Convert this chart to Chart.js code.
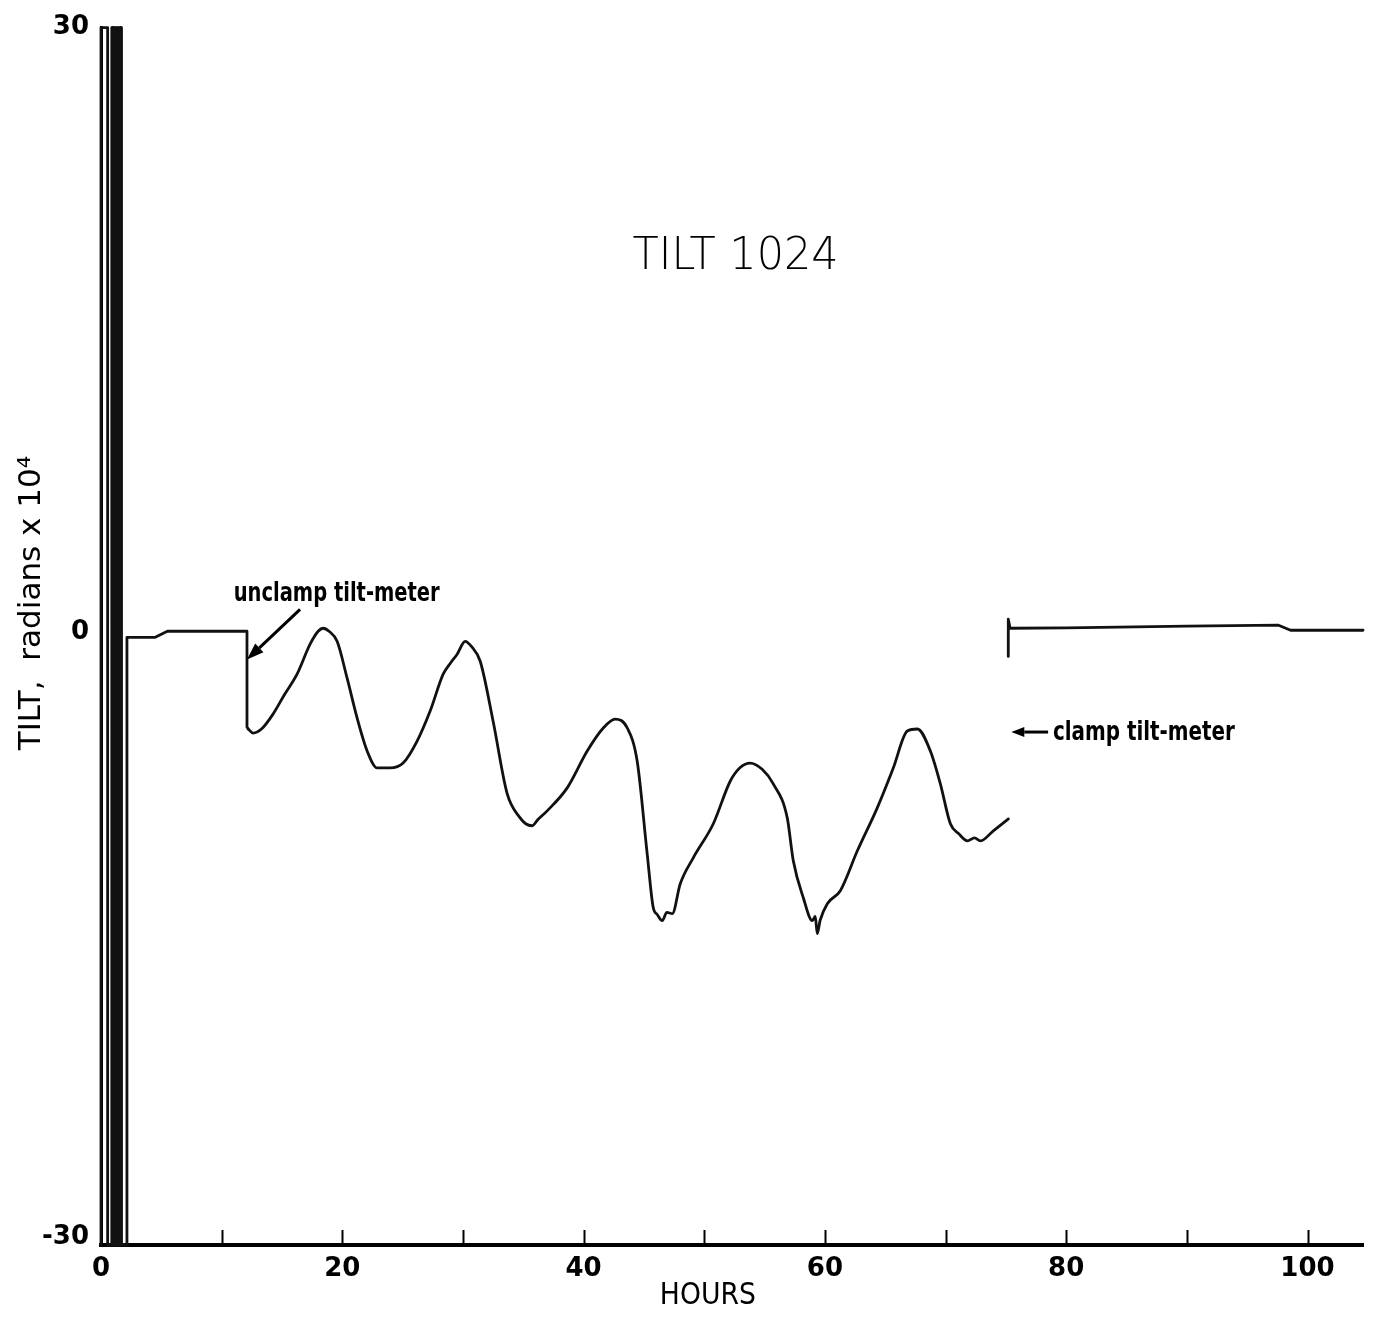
<!DOCTYPE html>
<html>
<head>
<meta charset="utf-8">
<script src="https://cdn.jsdelivr.net/npm/chart.js@4.4.1/dist/chart.umd.min.js"></script>
<style>
  html, body { margin: 0; padding: 0; background: #ffffff; }
  #wrap { width: 1374px; height: 1320px; position: relative; }
</style>
</head>
<body>
<div id="wrap"><canvas id="chart"></canvas></div>
<script>
// ---- data (hours, tilt in radians x 10^4) ----
const burstHours = [0.0, 0.0, 0.55, 0.55, 0.85, 0.88, 0.91, 0.94, 0.97, 1.00, 1.03, 1.06, 1.09, 1.12, 1.15, 1.18, 1.21, 1.24, 1.27, 1.30, 1.33, 1.36, 1.39, 1.42, 1.45, 1.48, 1.51, 1.54, 1.57, 1.60, 1.63, 1.66, 1.70, 2.15, 2.15, 4.5, 5.5, 12.1, 12.1, 12.2];
const burstTilt  = [-30.4, 30, 30, -30.4, -30.4, 30, -30.4, 30, -30.4, 30, -30.4, 30, -30.4, 30, -30.4, 30, -30.4, 30, -30.4, 30, -30.4, 30, -30.4, 30, -30.4, 30, -30.4, 30, -30.4, 30, -30.4, 30, -30.4, -30.4, -0.25, -0.25, 0.05, 0.05, -4.7, -4.8];

const unclampedHours = [12.2, 12.6, 13.3, 14.26, 15.2, 16.25, 17.33, 18.0, 18.41, 18.9, 19.57, 20.40, 21.23, 22.06, 22.89, 23.96, 25.04, 26.20, 27.28, 28.36, 29.0, 29.52, 30.18, 30.7, 31.43, 32.50, 33.67, 34.74, 35.2, 35.74, 36.2, 36.98, 38.64, 40.30, 41.63, 42.62, 43.62, 44.44, 45.27, 45.77, 46.1, 46.52, 46.9, 47.35, 48.01, 49.09, 50.75, 52.16, 53.0, 53.8, 54.8, 55.72, 56.88, 57.38, 58.21, 58.96, 59.2, 59.37, 59.6, 60.20, 61.28, 62.69, 64.34, 65.67, 66.83, 67.66, 68.74, 69.57, 70.40, 71.1, 71.81, 72.4, 72.89, 73.96, 75.21];
const unclampedTilt  = [-4.8, -5.0, -4.8, -4.06, -3.1, -2.08, -0.59, 0.05, 0.20, 0.05, -0.45, -2.28, -4.26, -5.89, -6.73, -6.73, -6.49, -5.40, -3.91, -2.08, -1.5, -1.09, -0.45, -0.7, -1.44, -4.41, -8.02, -9.21, -9.5, -9.6, -9.3, -8.86, -7.72, -5.89, -4.75, -4.31, -4.75, -6.39, -10.99, -13.66, -14.0, -14.31, -13.9, -13.96, -12.48, -11.19, -9.50, -7.38, -6.7, -6.49, -6.8, -7.52, -9.21, -11.34, -13.17, -14.31, -14.1, -14.95, -14.3, -13.47, -12.82, -10.84, -8.71, -6.73, -4.90, -4.80, -5.89, -7.52, -9.50, -10.0, -10.35, -10.2, -10.35, -9.85, -9.26];

const clampedHours = [75.2, 75.2, 75.35, 80, 90, 97.6, 98.6, 104.6];
const clampedTilt  = [-1.2, 0.65, 0.2, 0.22, 0.3, 0.35, 0.1, 0.1];

const xTickValues = [0, 10, 20, 30, 40, 50, 60, 70, 80, 90, 100];
const xTickLabels = ['0', '', '20', '', '40', '', '60', '', '80', '', '100'];
const yTickValues = [-30, 0, 30];
const yTickLabels = ['-30', '0', '30'];

const chartTitle = 'TILT 1024';
const xTitle = 'HOURS';
const yTitle = 'TILT,  radians x 10\u2074';
const unclampNote = 'unclamp tilt-meter';
const clampNote = 'clamp tilt-meter';

// ---- helpers ----
function pts(xs, ys) { return xs.map((x, i) => ({ x: x, y: ys[i] })); }

const INK = '#111111';

const annotations = {
  id: 'annotations',
  afterDraw(chart) {
    const ctx = chart.ctx;
    const xs = chart.scales.x, ys = chart.scales.y;
    const X = v => xs.getPixelForValue(v), Y = v => ys.getPixelForValue(v);
    ctx.save();
    ctx.fillStyle = '#000';
    ctx.strokeStyle = '#000';

    // x-axis tick marks pointing up into the plot
    ctx.lineWidth = 2;
    xs.ticks.forEach(t => {
      const px = Math.round(X(t.value)) + 0.5;
      if (t.value === 0) return;
      ctx.beginPath();
      ctx.moveTo(px, xs.top);
      ctx.lineTo(px, xs.top - 15);
      ctx.stroke();
    });

    // chart title
    ctx.textAlign = 'center';
    ctx.textBaseline = 'middle';
    ctx.font = '200 44px "DejaVu Sans", sans-serif';
    ctx.fillText(chartTitle, X(52.6), Y(18.6), 206);

    // axis titles
    ctx.font = '31px "DejaVu Sans", sans-serif';
    ctx.fillText(xTitle, X(50.3), 1296, 96);
    ctx.save();
    ctx.translate(32, Y(1.45));
    ctx.rotate(-Math.PI / 2);
    ctx.font = '31px "DejaVu Sans", sans-serif';
    ctx.fillText(yTitle, 0, 0, 310);
    ctx.restore();

    // unclamp annotation
    ctx.textAlign = 'left';
    ctx.textBaseline = 'alphabetic';
    ctx.font = 'bold 27px "DejaVu Sans Condensed", "Liberation Sans Narrow", "DejaVu Sans", sans-serif';
    ctx.fillText(unclampNote, X(11.0), Y(1.53), 206);
    arrow(ctx, X(16.5), Y(1.14), X(12.1), Y(-1.35), 17, 6);

    // clamp annotation
    ctx.fillText(clampNote, X(78.9), Y(-5.35), 182);
    arrow(ctx, X(78.5), Y(-4.95), X(75.45), Y(-4.95), 13, 5);
    ctx.restore();
  }
};

function arrow(ctx, x1, y1, x2, y2, headLen, headHalf) {
  const ang = Math.atan2(y2 - y1, x2 - x1);
  const bx = x2 - headLen * Math.cos(ang), by = y2 - headLen * Math.sin(ang);
  ctx.lineWidth = 3;
  ctx.beginPath();
  ctx.moveTo(x1, y1);
  ctx.lineTo(bx, by);
  ctx.stroke();
  ctx.beginPath();
  ctx.moveTo(x2, y2);
  ctx.lineTo(bx + headHalf * Math.sin(ang), by - headHalf * Math.cos(ang));
  ctx.lineTo(bx - headHalf * Math.sin(ang), by + headHalf * Math.cos(ang));
  ctx.closePath();
  ctx.fill();
}

const common = {
  borderColor: INK,
  borderWidth: 2.8,
  pointRadius: 0,
  fill: false,
  clip: false,
  borderJoinStyle: 'round',
  borderCapStyle: 'round'
};

new Chart(document.getElementById('chart'), {
  type: 'line',
  data: {
    datasets: [
      Object.assign({ label: 'burst', data: pts(burstHours, burstTilt), tension: 0 }, common),
      Object.assign({ label: 'unclamped', data: pts(unclampedHours, unclampedTilt), cubicInterpolationMode: 'monotone' }, common),
      Object.assign({ label: 'clamped', data: pts(clampedHours, clampedTilt), tension: 0 }, common)
    ]
  },
  options: {
    responsive: true,
    maintainAspectRatio: false,
    animation: false,
    devicePixelRatio: 1,
    layout: { padding: { top: 25, right: 11, bottom: 0, left: 0 } },
    plugins: { legend: { display: false }, tooltip: { enabled: false }, title: { display: false } },
    scales: {
      x: {
        type: 'linear',
        min: 0,
        max: 104.6,
        afterBuildTicks: s => { s.ticks = xTickValues.map(v => ({ value: v })); },
        afterFit: s => { s.height = 75; },
        ticks: {
          autoSkip: false,
          maxRotation: 0,
          padding: 9,
          color: '#000',
          font: { family: '"DejaVu Sans", sans-serif', size: 26, weight: 'bold' },
          callback: (v) => { const i = xTickValues.indexOf(v); return i >= 0 ? xTickLabels[i] : ''; }
        },
        grid: { display: true, drawOnChartArea: false, drawTicks: false },
        border: { display: true, color: '#000', width: 4 }
      },
      y: {
        type: 'linear',
        min: -30.4,
        max: 30,
        afterBuildTicks: s => { s.ticks = yTickValues.map(v => ({ value: v })); },
        afterFit: s => { s.width = 101; },
        ticks: {
          autoSkip: false,
          padding: 12,
          color: '#000',
          font: { family: '"DejaVu Sans", sans-serif', size: 26, weight: 'bold' },
          callback: (v) => { const i = yTickValues.indexOf(v); return i >= 0 ? yTickLabels[i] : ''; }
        },
        grid: { display: true, drawOnChartArea: false, drawTicks: false },
        border: { display: true, color: '#000', width: 3 }
      }
    }
  },
  plugins: [annotations]
});
</script>
</body>
</html>
